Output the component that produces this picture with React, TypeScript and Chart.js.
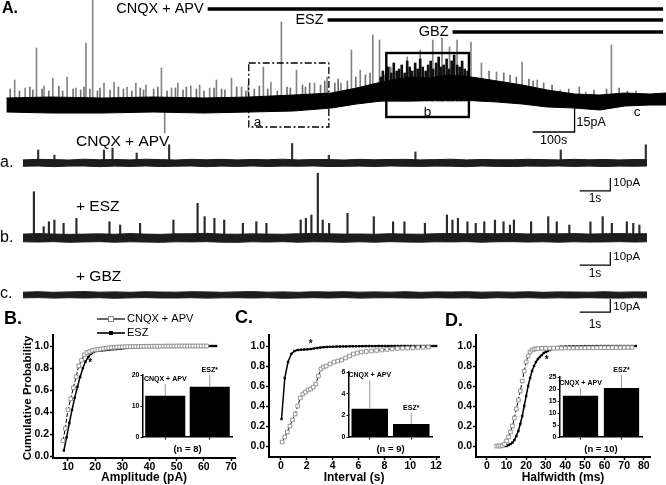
import React, { useEffect, useRef } from 'react';
import { Chart, registerables } from 'chart.js';
Chart.register(...registerables);

const FONT = '"Liberation Sans", Arial, Helvetica, sans-serif';

// ---------------- Panel A : whole recording (time in s, current in pA) ----------------
const A_BAND_T = [0, 105, 230, 350, 470, 580, 685, 775, 835, 895, 930, 970, 1010, 1050, 1090, 1125, 1170, 1230, 1290, 1355, 1415, 1475, 1535, 1573];
const A_BAND_UP = [3.5, 4, 3.5, 4, 3.5, 4, 5, 6, 8.5, 11.5, 13, 14, 13.5, 15, 14.5, 13.5, 12, 10, 7.5, 5.5, 5, 6, 5.5, 6];
const A_BAND_LO = [-3.5, -4, -4, -3.5, -4, -3.5, -3, -1.5, 0.5, 2, 2, 2, 2.5, 2.5, 2.5, 2, 1.5, 0.5, -1, -1.5, -2.5, -0.5, 0, 0];
const A_SPIKE_T = [21, 46, 73, 91, 112, 146, 167, 191, 207, 234, 258, 289, 310, 334, 371, 395, 410, 441, 462, 486, 502, 538, 562, 578, 614, 632, 657, 693, 736, 766, 799, 824, 845, 875, 891, 918, 957, 988, 1018, 1040, 1058, 1076, 1109, 1134, 1170, 1231, 1267, 1322, 1383, 1444];
const A_SPIKE_PK = [12.5, 8.5, 28.5, 9.5, 13.5, 14, 8.5, 31, 52.5, 11, 11.5, 9, 11, 10, 18.5, 8.5, 11, 9.5, 10, 8.5, 12.5, 13.5, 9, 10, 19, 11.5, 41.5, 17.5, 11, 14, 11, 27.5, 17.5, 35, 32.5, 19, 24, 27.5, 32.5, 33.5, 29, 32.5, 31.5, 21, 16.5, 21.5, 12.5, 7.5, 6.5, 30];
const A_MINOR_T = [8, 30, 55, 62, 84, 100, 124, 133, 158, 176, 184, 198, 216, 222, 246, 266, 278, 298, 318, 326, 350, 360, 382, 402, 420, 428, 452, 470, 494, 512, 520, 548, 570, 590, 602, 622, 645, 668, 676, 705, 712, 722, 748, 758, 782, 790, 812, 832, 855, 866, 905, 1150, 1185, 1200, 1215, 1245, 1255, 1280, 1300, 1340, 1365, 1400, 1430, 1460, 1480, 1500];
const A_MINOR_PK = [8, 7, 9, 7.5, 8, 7, 9.5, 7, 8, 7.5, 9, 8, 7, 8.5, 7.5, 9, 8, 7, 8.5, 7.5, 8, 9, 7, 8.5, 7.5, 9, 8, 7, 8.5, 8, 7.5, 9, 7, 8, 9.5, 8, 7, 9, 8.5, 10, 9, 11, 10, 12, 11, 13, 12, 14, 15, 16, 18, 17, 16, 15, 14, 13, 12, 11, 10, 8, 9, 7.5, 8, 8.5, 7, 7];
const A_DENSE_T = [900, 905, 912, 918, 925, 931, 938, 944, 950, 957, 963, 969, 975, 982, 988, 994, 1000, 1007, 1013, 1019, 1025, 1032, 1038, 1044, 1050, 1057, 1063, 1069, 1075, 1082, 1088, 1094, 1100, 1107];
const A_DENSE_PK = [14, 17, 15, 19, 16, 21, 17, 18, 20, 16, 22, 19, 17, 21, 18, 23, 19, 17, 20, 22, 18, 21, 24, 19, 20, 23, 18, 22, 25, 20, 19, 22, 18, 17];
const A_DOWN_T = [374];
const A_DOWN_PK = [-14];
const DRUG_LABELS = ['CNQX + APV', 'ESZ', 'GBZ'];
const DRUG_START_S = [480, 766, 1064];
const DRUG_END_S = 1566;
const BOX_A = { t0: 578, t1: 769, v0: -11, v1: 21 };
const BOX_B = { t0: 906, t1: 1103, v0: -6, v1: 26 };
const A_SCALE_S = [1255, 1355];
const A_SCALE_PA = [-13.5, 1.5];

// ---------------- Expanded traces a, b, c (time in s, current in pA) ----------------
const TRACE_T = [0, 0.5, 1, 1.5, 2, 2.5, 3, 3.5, 4, 4.5, 5, 5.5, 6, 6.5, 7, 7.5, 8, 8.5, 9, 9.5, 10, 10.5, 11, 11.5, 12, 12.5, 13, 13.5, 14, 14.5, 15, 15.5, 16, 16.5, 17, 17.5, 18, 18.5, 19, 19.5, 20, 20.4];
const TA_UP = [2.4, 2.8, 2.6, 2.3, 2.9, 2.5, 2.7, 2.4, 2.9, 2.6, 2.3, 2.8, 2.5, 2.8, 2.4, 2.7, 2.5, 2.9, 2.4, 2.7, 2.6, 2.3, 2.8, 2.5, 2.7, 2.8, 2.4, 2.6, 2.9, 2.4, 2.7, 2.5, 2.5, 2.8, 2.6, 2.4, 2.8, 2.5, 2.7, 2.4, 2.7, 2.6];
const TA_LO = [-2.5, -2.3, -2.8, -2.4, -2.3, -2.8, -2.4, -2.6, -2.3, -2.7, -2.5, -2.3, -2.8, -2.4, -2.6, -2.3, -2.7, -2.4, -2.5, -2.3, -2.7, -2.6, -2.4, -2.7, -2.3, -2.5, -2.6, -2.4, -2.5, -2.8, -2.3, -2.6, -2.7, -2.4, -2.5, -2.3, -2.6, -2.4, -2.7, -2.4, -2.5, -2.3];
const TA_SPK_T = [0.5, 1.03, 2.65, 2.93, 3.72, 4.78, 8.8, 10.0, 12.83, 17.58, 20.36];
const TA_SPK_PK = [10, 6, 10, 11.5, 7.7, 14, 15, 6, 8.5, 10, 14];
const TB_UP = [3, 3.4, 3, 2.8, 3, 3.2, 2.9, 3.4, 3, 2.8, 3.2, 3.3, 3.6, 3, 2.9, 3.2, 3, 2.9, 3.3, 3.5, 3.2, 3, 3.1, 2.9, 3.3, 3, 2.9, 3.3, 3.5, 3.2, 3.4, 3.3, 3.5, 3.1, 3.3, 3.2, 3.4, 3, 3.3, 3.4, 3.2, 3.3];
const TB_LO = [-2.9, -3.1, -2.8, -3.3, -3, -2.8, -3.2, -2.9, -3.1, -3.3, -2.9, -3, -2.8, -3.2, -3.3, -2.9, -3.1, -2.8, -3.2, -2.9, -3, -3.3, -2.9, -3.2, -2.8, -3.1, -3.2, -2.9, -3, -2.8, -3.2, -2.9, -2.8, -3.1, -2.9, -3.2, -2.9, -3.1, -3, -2.8, -3.1, -2.9];
const TB_SPK_T = [0.36, 0.68, 0.85, 1.03, 1.33, 1.75, 2.83, 3.18, 3.83, 4.92, 5.71, 5.94, 6.26, 6.58, 7.19, 7.63, 7.96, 9.08, 9.25, 9.43, 9.64, 9.8, 10.01, 10.61, 11.47, 12.1, 12.47, 13.14, 13.86, 14.04, 14.22, 14.53, 14.8, 15.08, 15.43, 15.71, 15.92, 16.05, 16.61, 17.17, 17.45, 17.86, 18.55, 18.95, 19.25, 19.74, 19.95, 20.15];
const TB_SPK_PK = [35.6, 8.7, 12.5, 13.8, 11.3, 15.1, 12.5, 10, 11.3, 13.8, 26.7, 16.4, 15.1, 13.8, 11.3, 12.5, 11.3, 13.8, 15.1, 17.7, 49.8, 13.8, 11.3, 19, 16.4, 12.5, 12.5, 11.3, 17.7, 13.8, 15.1, 12.5, 11.3, 12.5, 13.8, 12.5, 10, 13.8, 12.5, 16.4, 12.5, 10, 12.5, 16.4, 11.3, 12.5, 11.3, 10];
const TC_UP = [2.2, 2.5, 2.1, 2.4, 2.6, 2.2, 2.4, 2.1, 2.5, 2.3, 2.2, 2.5, 2.4, 2.1, 2.4, 2.6, 2.2, 2.4, 2.1, 2.5, 2.3, 2.5, 2.2, 2.4, 2.2, 2.5, 2.1, 2.4, 2.3, 2.5, 2.2, 2.4, 2.2, 2.5, 2.1, 2.4, 2.3, 2.2, 2.5, 2.2, 2.4, 2.3];
const TC_LO = [-2.2, -2.0, -2.4, -2.1, -2.3, -2.1, -2.5, -2.2, -2.0, -2.3, -2.3, -2.1, -2.4, -2.2, -2.1, -2.3, -2.1, -2.5, -2.3, -2.1, -2.3, -2.0, -2.4, -2.2, -2.1, -2.3, -2.4, -2.1, -2.3, -2.2, -2.5, -2.1, -2.3, -2.1, -2.4, -2.2, -2.3, -2.1, -2.3, -2.4, -2.1, -2.2];
const TRACE_SCALE_S = [18.2, 19.2];

// ---------------- Cumulative distributions ----------------
const B_CNQX_X = [8.2, 9, 10, 11, 12, 13, 14, 15, 16, 17, 18, 19, 20, 21, 22, 23, 24, 25, 26, 27, 28, 29, 30, 31, 32, 33, 34, 35, 36, 37, 38, 39, 40, 41, 42, 43, 44, 45, 46, 47, 48, 49, 50, 51, 52, 53, 54, 55, 56, 57, 58, 59, 60, 61];
const B_CNQX_Y = [0.14, 0.25, 0.42, 0.52, 0.62, 0.72, 0.82, 0.87, 0.92, 0.94, 0.95, 0.96, 0.965, 0.968, 0.972, 0.976, 0.98, 0.983, 0.986, 0.988, 0.99, 0.991, 0.992, 0.993, 0.994, 0.994, 0.995, 0.995, 0.996, 0.996, 0.997, 0.997, 0.997, 0.998, 0.998, 0.998, 0.998, 0.999, 0.999, 0.999, 0.999, 0.999, 1, 1, 1, 1, 1, 1, 1, 1, 1, 1, 1, 1];
const B_ESZ_X = [8.5, 9.5, 10.5, 11.5, 12.5, 13.5, 14.5, 15.5, 16.5, 17.5, 18.5, 19.5, 20.5, 21.5, 22.5, 23.5, 24.5, 25.5, 26.5, 27.5, 28.5, 29.5, 30.5, 31.5, 32.5, 33.5, 34.5, 35.5, 36.5, 37.5, 38.5, 39.5, 40.5, 41.5, 42.5, 43.5, 44.5, 45.5, 46.5, 47.5, 48.5, 49.5, 50.5, 51.5, 52.5, 53.5, 54.5, 55.5, 56.5, 57.5, 58.5, 59.5, 60.5, 61.5, 62.5, 63.5, 64.5];
const B_ESZ_Y = [0.05, 0.17, 0.3, 0.42, 0.53, 0.63, 0.72, 0.8, 0.86, 0.9, 0.93, 0.945, 0.955, 0.958, 0.96, 0.962, 0.965, 0.968, 0.97, 0.972, 0.975, 0.977, 0.98, 0.982, 0.984, 0.986, 0.988, 0.99, 0.991, 0.992, 0.993, 0.994, 0.995, 0.995, 0.996, 0.996, 0.997, 0.997, 0.998, 0.998, 0.998, 0.999, 0.999, 0.999, 0.999, 1, 1, 1, 1, 1, 1, 1, 1, 1, 1, 1, 1];
const C_CNQX_X = [0.1, 0.3, 0.5, 0.7, 0.9, 1.1, 1.3, 1.5, 1.7, 1.9, 2.1, 2.3, 2.5, 2.7, 2.9, 3.1, 3.3, 3.5, 3.8, 4.1, 4.4, 4.7, 5.0, 5.3, 5.6, 5.9, 6.2, 6.6, 7.0, 7.4, 7.8, 8.2, 8.6, 9.0, 9.4, 9.8, 10.2, 10.6, 11.0, 11.4];
const C_CNQX_Y = [0.04, 0.09, 0.14, 0.2, 0.26, 0.32, 0.4, 0.48, 0.52, 0.54, 0.56, 0.57, 0.59, 0.62, 0.7, 0.77, 0.79, 0.8, 0.82, 0.84, 0.85, 0.86, 0.88, 0.9, 0.92, 0.93, 0.94, 0.945, 0.95, 0.955, 0.96, 0.965, 0.97, 0.975, 0.978, 0.98, 0.982, 0.985, 0.987, 0.99];
const C_ESZ_X = [0.05, 0.3, 0.55, 0.8, 1.05, 1.3, 1.55, 1.8, 2.05, 2.3, 2.55, 2.8, 3.05, 3.3, 3.55, 3.8, 4.05, 4.3, 4.55, 4.8, 5.05, 5.3, 5.55, 5.8, 6.05, 6.3, 6.55, 6.8, 7.05, 7.3, 7.55, 7.8, 8.05, 8.3, 8.55, 8.8, 9.05, 9.3, 9.55, 9.8, 10.05, 10.3, 10.55, 10.8, 11.05, 11.3, 11.55, 11.8, 12];
const C_ESZ_Y = [0.27, 0.68, 0.84, 0.92, 0.95, 0.96, 0.963, 0.965, 0.967, 0.97, 0.975, 0.98, 0.985, 0.988, 0.99, 0.992, 0.993, 0.994, 0.995, 0.996, 0.996, 0.997, 0.997, 0.998, 0.998, 0.998, 0.999, 0.999, 0.999, 0.999, 1, 1, 1, 1, 1, 1, 1, 1, 1, 1, 1, 1, 1, 1, 1, 1, 1, 1, 1];
const D_CNQX_X = [5, 6, 7, 8, 9, 10, 11, 12, 13, 14, 15, 16, 17, 18, 19, 20, 21, 22, 23, 24, 25, 26, 28, 30, 32, 34, 36, 38, 40, 42, 44, 46, 48, 50, 52, 54, 56, 58, 60, 62, 64, 66, 68, 70, 72, 74];
const D_CNQX_Y = [0, 0, 0, 0.005, 0.02, 0.05, 0.09, 0.14, 0.2, 0.28, 0.37, 0.46, 0.55, 0.65, 0.75, 0.84, 0.9, 0.94, 0.96, 0.968, 0.972, 0.974, 0.976, 0.977, 0.978, 0.978, 0.979, 0.979, 0.98, 0.98, 0.98, 0.981, 0.981, 0.981, 0.982, 0.982, 0.982, 0.983, 0.983, 0.983, 0.984, 0.984, 0.984, 0.985, 0.985, 0.985];
const D_ESZ_X = [5, 6, 7, 8, 9, 10, 11, 12, 13, 14, 15, 16, 17, 18, 19, 20, 21, 22, 23, 24, 25, 26, 27, 28, 29, 30, 31, 32, 33, 34, 35, 36, 37, 38, 40, 42, 44, 46, 48, 50, 52, 54, 56, 58, 60, 62, 64, 66, 68, 70, 72, 74, 76];
const D_ESZ_Y = [0, 0, 0, 0, 0, 0, 0.01, 0.02, 0.035, 0.06, 0.1, 0.15, 0.22, 0.3, 0.4, 0.5, 0.6, 0.68, 0.75, 0.8, 0.84, 0.87, 0.89, 0.91, 0.93, 0.94, 0.95, 0.96, 0.97, 0.975, 0.98, 0.985, 0.99, 0.993, 0.995, 0.996, 0.997, 0.998, 0.998, 0.999, 0.999, 0.999, 1, 1, 1, 1, 1, 1, 1, 1, 1, 1, 1];
const PROB_TICKS = [0, 0.2, 0.4, 0.6, 0.8, 1.0];
const B_X_TICKS = [10, 20, 30, 40, 50, 60, 70];
const C_X_TICKS = [0, 2, 4, 6, 8, 10, 12];
const D_X_TICKS = [0, 10, 20, 30, 40, 50, 60, 70, 80];

// ---------------- Insets (mean + error) ----------------
const INSET_CATS = ['CNQX + APV', 'ESZ*'];
const B_MEAN = [13.3, 16.2];
const B_ERR = [3.8, 3.9];
const C_MEAN = [2.6, 1.2];
const C_ERR = [2.65, 1.05];
const D_MEAN = [17.2, 20.4];
const D_ERR = [3.2, 5.4];
const B_IN_TICKS = [0, 10, 20];
const C_IN_TICKS = [0, 2, 4, 6];
const D_IN_TICKS = [0, 5, 10, 15, 20, 25];

// ---------------- helpers ----------------
const zip = (xs: number[], ys: number[]) => xs.map((x, i) => ({ x, y: ys[i] }));

function txt(ctx: CanvasRenderingContext2D, s: string, x: number, y: number, size: number, bold = false, align: CanvasTextAlign = 'left', color = '#000', rot = 0) {
  ctx.save();
  ctx.font = `${bold ? 'bold ' : ''}${size}px ${FONT}`;
  ctx.fillStyle = color;
  ctx.textAlign = align;
  ctx.textBaseline = 'middle';
  ctx.translate(x, y);
  if (rot) ctx.rotate(rot);
  ctx.fillText(s, 0, 0);
  ctx.restore();
}

function scaleBar(ctx: CanvasRenderingContext2D, X: any, Y: any, t0: number, t1: number, v0: number, v1: number, lw: number) {
  ctx.save();
  ctx.strokeStyle = '#000';
  ctx.lineWidth = lw;
  ctx.beginPath();
  ctx.moveTo(X.getPixelForValue(t0), Y.getPixelForValue(v0));
  ctx.lineTo(X.getPixelForValue(t1), Y.getPixelForValue(v0));
  ctx.lineTo(X.getPixelForValue(t1), Y.getPixelForValue(v1));
  ctx.stroke();
  ctx.restore();
}

type Spk = { t: number[]; pk: number[]; base: number; color: string; width: number };

function traceConfig(o: { xMin: number; xMax: number; yMin: number; yMax: number; bandT: number[]; up: number[]; lo: number[]; bandColor: string; spikes: Spk[]; draw: (chart: any, ctx: CanvasRenderingContext2D) => void }) {
  const datasets: any[] = [
    { type: 'line', data: zip(o.bandT, o.up), borderColor: o.bandColor, backgroundColor: o.bandColor, borderWidth: 1, pointRadius: 0, fill: '+1', order: 0, tension: 0 },
    { type: 'line', data: zip(o.bandT, o.lo), borderColor: o.bandColor, borderWidth: 1, pointRadius: 0, fill: false, order: 0, tension: 0 },
  ];
  o.spikes.forEach((s) => {
    datasets.push({ type: 'bar', data: s.t.map((t, i) => ({ x: t, y: [s.base, s.pk[i]] })), backgroundColor: s.color, borderWidth: 0, barThickness: s.width, order: 1 });
  });
  return {
    type: 'bar',
    data: { datasets },
    options: {
      animation: false, responsive: false, events: [], devicePixelRatio: 1,
      layout: { padding: 0 },
      plugins: { legend: { display: false }, tooltip: { enabled: false } },
      scales: {
        x: { type: 'linear', min: o.xMin, max: o.xMax, display: false, offset: false },
        y: { type: 'linear', min: o.yMin, max: o.yMax, display: false },
      },
    },
    plugins: [{ id: 'overlay', afterDraw: (chart: any) => o.draw(chart, chart.ctx) }],
  };
}

function cdfConfig(o: { padTop: number; padRight: number; yWidth: number; xHeight: number; xMin: number; xMax: number; yMin: number; yMax: number; xTicks: number[]; xTitle: string; cnqx: [number[], number[]]; esz: [number[], number[]]; draw: (chart: any, ctx: CanvasRenderingContext2D) => void }) {
  const tickFont = { family: FONT, size: 10.5, weight: 'bold' };
  const grid = { drawOnChartArea: false, drawTicks: true, tickLength: 3, tickWidth: 1.5, tickColor: '#000' };
  return {
    type: 'line',
    data: {
      datasets: [
        { data: zip(o.cnqx[0], o.cnqx[1]), borderColor: '#000', borderWidth: 1, borderDash: [4, 2], pointStyle: 'rect', pointRadius: 2.6, pointBorderWidth: 0.9, pointBorderColor: '#8a8a8a', pointBackgroundColor: '#fff', tension: 0 },
        { data: zip(o.esz[0], o.esz[1]), borderColor: '#000', borderWidth: 1.5, pointStyle: 'rect', pointRadius: 1.7, pointBorderWidth: 0, pointBackgroundColor: '#000', tension: 0 },
      ],
    },
    options: {
      animation: false, responsive: false, events: [], devicePixelRatio: 1,
      layout: { padding: { top: o.padTop, right: o.padRight, left: 0, bottom: 0 } },
      plugins: { legend: { display: false }, tooltip: { enabled: false } },
      scales: {
        x: {
          type: 'linear', min: o.xMin, max: o.xMax,
          afterBuildTicks: (s: any) => { s.ticks = o.xTicks.map((v) => ({ value: v })); },
          afterFit: (s: any) => { s.height = o.xHeight; s.paddingLeft = 0; s.paddingRight = 0; },
          ticks: { font: tickFont, color: '#000', padding: 0, maxRotation: 0, autoSkip: false },
          grid,
          border: { color: '#000', width: 2 },
          title: { display: true, text: o.xTitle, color: '#000', font: { family: FONT, size: 12, weight: 'bold' }, padding: { top: 0, bottom: 0 } },
        },
        y: {
          type: 'linear', min: o.yMin, max: o.yMax,
          afterBuildTicks: (s: any) => { s.ticks = PROB_TICKS.map((v) => ({ value: v })); },
          afterFit: (s: any) => { s.width = o.yWidth; s.paddingTop = 0; s.paddingBottom = 0; },
          ticks: { font: tickFont, color: '#000', padding: 1, autoSkip: false, callback: (v: any) => Number(v).toFixed(1) },
          grid,
          border: { color: '#000', width: 2 },
        },
      },
    },
    plugins: [{ id: 'overlay', afterDraw: (chart: any) => o.draw(chart, chart.ctx) }],
  };
}

function insetConfig(o: { padTop: number; padRight: number; yWidth: number; max: number; ticks: number[]; mean: number[]; err: number[]; n: string; barPct: number }) {
  const grid = { drawOnChartArea: false, drawTicks: true, tickLength: 2.5, tickWidth: 1, tickColor: '#000', offset: false };
  return {
    type: 'bar',
    data: { labels: INSET_CATS, datasets: [{ data: o.mean, backgroundColor: '#000', borderWidth: 0, barPercentage: o.barPct, categoryPercentage: 1 }] },
    options: {
      animation: false, responsive: false, events: [], devicePixelRatio: 1,
      layout: { padding: { top: o.padTop, right: o.padRight, left: 0, bottom: 0 } },
      plugins: { legend: { display: false }, tooltip: { enabled: false } },
      scales: {
        x: {
          grid, border: { color: '#000', width: 1.5 },
          ticks: { display: false },
          afterFit: (s: any) => { s.height = 18; s.paddingLeft = 0; s.paddingRight = 0; },
          title: { display: true, text: o.n, color: '#000', font: { family: FONT, size: 9.5, weight: 'bold' }, padding: { top: 0, bottom: 0 } },
        },
        y: {
          min: 0, max: o.max,
          afterBuildTicks: (s: any) => { s.ticks = o.ticks.map((v) => ({ value: v })); },
          afterFit: (s: any) => { s.width = o.yWidth; s.paddingTop = 0; s.paddingBottom = 0; },
          ticks: { font: { family: FONT, size: 7, weight: 'bold' }, color: '#000', padding: 1, autoSkip: false },
          grid, border: { color: '#000', width: 1.5 },
        },
      },
    },
    plugins: [{
      id: 'errbars',
      afterDatasetsDraw: (chart: any) => {
        const ctx: CanvasRenderingContext2D = chart.ctx;
        const Y = chart.scales.y;
        chart.getDatasetMeta(0).data.forEach((bar: any, i: number) => {
          const yv = Y.getPixelForValue(o.mean[i]);
          const ye = Y.getPixelForValue(o.mean[i] + o.err[i]);
          ctx.save();
          ctx.strokeStyle = '#9a9a9a';
          ctx.lineWidth = 1;
          ctx.beginPath();
          ctx.moveTo(bar.x, yv);
          ctx.lineTo(bar.x, ye);
          ctx.stroke();
          ctx.restore();
          txt(ctx, INSET_CATS[i], bar.x, ye - 5, 7, true, 'center');
        });
      },
    }],
  };
}

type Box = { left: number; top: number; width: number; height: number };

function ChartCanvas({ box, make }: { box: Box; make: () => any }) {
  const ref = useRef<HTMLCanvasElement>(null);
  useEffect(() => {
    const chart = new Chart(ref.current as HTMLCanvasElement, make());
    return () => chart.destroy();
  }, []);
  return (
    <div style={{ position: 'absolute', left: box.left, top: box.top, width: box.width, height: box.height }}>
      <canvas ref={ref} width={box.width} height={box.height} style={{ display: 'block', width: box.width, height: box.height }} />
    </div>
  );
}

// ---------------- chart builders ----------------
const makeA = () => traceConfig({
  xMin: -15.2, xMax: 1573, yMin: -22.5, yMax: 52.5,
  bandT: A_BAND_T, up: A_BAND_UP, lo: A_BAND_LO, bandColor: '#000',
  spikes: [
    { t: A_DENSE_T, pk: A_DENSE_PK, base: 2, color: '#111', width: 2 },
    { t: A_SPIKE_T, pk: A_SPIKE_PK, base: 2, color: '#858585', width: 1 },
    { t: A_MINOR_T, pk: A_MINOR_PK, base: 2, color: '#707070', width: 1 },
    { t: A_DOWN_T, pk: A_DOWN_PK, base: -2, color: '#858585', width: 1 },
  ],
  draw: (chart, ctx) => {
    const X = chart.scales.x, Y = chart.scales.y;
    txt(ctx, 'A.', 2, 9, 16, true);
    const rows = [9, 20, 32];
    DRUG_LABELS.forEach((l, i) => {
      const x0 = X.getPixelForValue(DRUG_START_S[i]);
      const x1 = X.getPixelForValue(DRUG_END_S);
      txt(ctx, l, x0 - 4, rows[i], 14.5, false, 'right');
      ctx.save();
      ctx.fillStyle = '#000';
      ctx.fillRect(x0, rows[i] - 1.75, x1 - x0, 3.5);
      ctx.restore();
    });
    ctx.save();
    ctx.strokeStyle = '#000';
    ctx.lineWidth = 1.3;
    ctx.setLineDash([7, 2.5, 2, 2.5]);
    const ax0 = X.getPixelForValue(BOX_A.t0), ax1 = X.getPixelForValue(BOX_A.t1);
    const ay0 = Y.getPixelForValue(BOX_A.v1), ay1 = Y.getPixelForValue(BOX_A.v0);
    ctx.strokeRect(ax0, ay0, ax1 - ax0, ay1 - ay0);
    ctx.setLineDash([]);
    ctx.lineWidth = 2.4;
    const bx0 = X.getPixelForValue(BOX_B.t0), bx1 = X.getPixelForValue(BOX_B.t1);
    const by0 = Y.getPixelForValue(BOX_B.v1), by1 = Y.getPixelForValue(BOX_B.v0);
    ctx.strokeRect(bx0, by0, bx1 - bx0, by1 - by0);
    ctx.restore();
    txt(ctx, 'a', ax0 + 5, ay1 - 5, 13.5);
    txt(ctx, 'b', (bx0 + bx1) / 2, by1 - 5, 13.5, false, 'center');
    txt(ctx, 'c', 637, 112, 13.5, false, 'center');
    scaleBar(ctx, X, Y, A_SCALE_S[0], A_SCALE_S[1], A_SCALE_PA[0], A_SCALE_PA[1], 1.3);
    const sx1 = X.getPixelForValue(A_SCALE_S[1]);
    const sxm = X.getPixelForValue((A_SCALE_S[0] + A_SCALE_S[1]) / 2);
    txt(ctx, '15pA', sx1 + 2, 123, 12.5);
    txt(ctx, '100s', sxm, 141, 12.5, false, 'center');
  },
});

function makeTrace(up: number[], lo: number[], spikes: Spk[], yMin: number, yMax: number, top: number, letter: string, label: string, labelY: number, baseY: number, sbV: number, tenY: number, oneY: number) {
  return () => traceConfig({
    xMin: -0.748, xMax: 21.02, yMin, yMax,
    bandT: TRACE_T, up, lo, bandColor: '#1c1c1c', spikes,
    draw: (chart, ctx) => {
      const X = chart.scales.x, Y = chart.scales.y;
      txt(ctx, letter, 0, baseY - top, 16);
      txt(ctx, label, 76, labelY - top, 15.5);
      scaleBar(ctx, X, Y, TRACE_SCALE_S[0], TRACE_SCALE_S[1], sbV, sbV + 10, 1.2);
      const sx1 = X.getPixelForValue(TRACE_SCALE_S[1]);
      const sxm = X.getPixelForValue((TRACE_SCALE_S[0] + TRACE_SCALE_S[1]) / 2);
      txt(ctx, '10pA', sx1 + 3, tenY - top, 11.5);
      txt(ctx, '1s', sxm, oneY - top, 12, false, 'center');
    },
  });
}

const makeTa = makeTrace(TA_UP, TA_LO, [{ t: TA_SPK_T, pk: TA_SPK_PK, base: 0, color: '#333', width: 1.5 }], -33.85, 21.54, 135, 'a.', 'CNQX + APV', 142, 163, -21.5, 183, 199);
const makeTb = makeTrace(TB_UP, TB_LO, [{ t: TB_SPK_T, pk: TB_SPK_PK, base: 0, color: '#2a2a2a', width: 1.5 }], -34.6, 53.85, 168, 'b.', '+ ESZ', 207, 238, -20.8, 257, 274);
const makeTc = makeTrace(TC_UP, TC_LO, [], -28.46, 23.08, 265, 'c.', '+ GBZ', 277, 294, -13.1, 307, 325);

const makeB = () => cdfConfig({
  padTop: 30, padRight: 4, yWidth: 53, xHeight: 27, xMin: 4.5, xMax: 71.5, yMin: -0.018, yMax: 1.1,
  xTicks: B_X_TICKS, xTitle: 'Amplitude (pA)',
  cnqx: [B_CNQX_X, B_CNQX_Y], esz: [B_ESZ_X, B_ESZ_Y],
  draw: (chart, ctx) => {
    const ox = 0, oy = 305;
    const X = chart.scales.x, Y = chart.scales.y;
    txt(ctx, 'B.', 4 - ox, 319 - oy, 18, true);
    txt(ctx, 'Cumulative Probability', 28 - ox, 398 - oy, 11.5, true, 'center', '#000', -Math.PI / 2);
    ctx.save();
    ctx.strokeStyle = '#000';
    ctx.lineWidth = 1.2;
    ctx.beginPath(); ctx.moveTo(97 - ox, 319 - oy); ctx.lineTo(125 - ox, 319 - oy); ctx.stroke();
    ctx.fillStyle = '#fff'; ctx.fillRect(108.5 - ox, 316.5 - oy, 5, 5);
    ctx.strokeStyle = '#8a8a8a'; ctx.lineWidth = 1; ctx.strokeRect(108.5 - ox, 316.5 - oy, 5, 5);
    ctx.strokeStyle = '#000'; ctx.lineWidth = 1.6;
    ctx.beginPath(); ctx.moveTo(97 - ox, 333 - oy); ctx.lineTo(125 - ox, 333 - oy); ctx.stroke();
    ctx.fillStyle = '#000'; ctx.fillRect(109 - ox, 331 - oy, 4, 4);
    ctx.restore();
    txt(ctx, 'CNQX + APV', 127 - ox, 319 - oy, 11);
    txt(ctx, 'ESZ', 127 - ox, 333 - oy, 11);
    txt(ctx, '*', X.getPixelForValue(18.2), Y.getPixelForValue(0.84), 10, true, 'center');
  },
});

const makeC = () => cdfConfig({
  padTop: 30, padRight: 4, yWidth: 47, xHeight: 28, xMin: -0.92, xMax: 12.23, yMin: -0.11, yMax: 1.11,
  xTicks: C_X_TICKS, xTitle: 'Interval (s)',
  cnqx: [C_CNQX_X, C_CNQX_Y], esz: [C_ESZ_X, C_ESZ_Y],
  draw: (chart, ctx) => {
    const ox = 222, oy = 305;
    const X = chart.scales.x, Y = chart.scales.y;
    txt(ctx, 'C.', 235 - ox, 318 - oy, 18, true);
    txt(ctx, '*', X.getPixelForValue(2.3), Y.getPixelForValue(1.02), 10, true, 'center');
  },
});

const makeD = () => cdfConfig({
  padTop: 30, padRight: 16, yWidth: 32, xHeight: 28, xMin: -5.6, xMax: 83.2, yMin: -0.11, yMax: 1.11,
  xTicks: D_X_TICKS, xTitle: 'Halfwidth (ms)',
  cnqx: [D_CNQX_X, D_CNQX_Y], esz: [D_ESZ_X, D_ESZ_Y],
  draw: (chart, ctx) => {
    const ox = 444, oy = 305;
    const X = chart.scales.x, Y = chart.scales.y;
    txt(ctx, 'D.', 445 - ox, 321 - oy, 18, true);
    txt(ctx, '*', X.getPixelForValue(30.5), Y.getPixelForValue(0.86), 10, true, 'center');
  },
});

const makeBin = () => insetConfig({ padTop: 20, padRight: 4, yWidth: 23, max: 20, ticks: B_IN_TICKS, mean: B_MEAN, err: B_ERR, n: '(n = 8)', barPct: 0.9 });
const makeCin = () => insetConfig({ padTop: 17, padRight: 4, yWidth: 24, max: 6, ticks: C_IN_TICKS, mean: C_MEAN, err: C_ERR, n: '(n = 9)', barPct: 0.88 });
const makeDin = () => insetConfig({ padTop: 22, padRight: 4, yWidth: 24, max: 25, ticks: D_IN_TICKS, mean: D_MEAN, err: D_ERR, n: '(n = 10)', barPct: 0.86 });

export default function App() {
  return (
    <div style={{ position: 'absolute', left: 0, top: 0, width: 666, height: 485, background: '#fff', overflow: 'hidden' }}>
      <ChartCanvas box={{ left: 0, top: 0, width: 666, height: 150 }} make={makeA} />
      <ChartCanvas box={{ left: 0, top: 135, width: 666, height: 72 }} make={makeTa} />
      <ChartCanvas box={{ left: 0, top: 168, width: 666, height: 115 }} make={makeTb} />
      <ChartCanvas box={{ left: 0, top: 265, width: 666, height: 67 }} make={makeTc} />
      <ChartCanvas box={{ left: 0, top: 305, width: 240, height: 180 }} make={makeB} />
      <ChartCanvas box={{ left: 222, top: 305, width: 222, height: 180 }} make={makeC} />
      <ChartCanvas box={{ left: 444, top: 305, width: 222, height: 180 }} make={makeD} />
      <ChartCanvas box={{ left: 120, top: 355, width: 116, height: 100 }} make={makeBin} />
      <ChartCanvas box={{ left: 325, top: 355, width: 111, height: 100 }} make={makeCin} />
      <ChartCanvas box={{ left: 536, top: 355, width: 110, height: 100 }} make={makeDin} />
    </div>
  );
}
